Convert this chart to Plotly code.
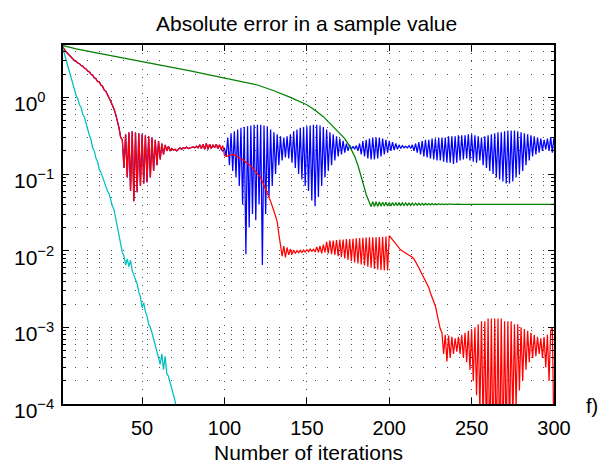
import math
import plotly.graph_objects as go

# ---------------- data ----------------
iterations = list(range(1, 301))

red_err = [
    4.8, 4.45, 4.15, 3.9, 3.7, 3.5, 3.35, 3.2, 3.0, 2.95,
    2.8, 2.75, 2.6, 2.55, 2.4, 2.35, 2.2, 2.15, 2.0, 1.95,
    1.8, 1.75, 1.6, 1.6, 1.45, 1.4, 1.25, 1.2, 1.05, 0.98,
    0.88, 0.8, 0.7, 0.6, 0.5, 0.4, 0.3,
    0.28, 0.12, 0.33, 0.09, 0.35, 0.06, 0.36, 0.044, 0.35, 0.058,
    0.34, 0.07, 0.33, 0.075, 0.32, 0.078, 0.31, 0.09, 0.30, 0.11,
    0.28, 0.13, 0.27, 0.155, 0.25, 0.18, 0.24, 0.2, 0.23, 0.2,
    0.215, 0.205, 0.21, 0.2, 0.21, 0.22, 0.21, 0.22, 0.215, 0.225,
    0.215, 0.22, 0.22, 0.225, 0.22, 0.23, 0.22, 0.24, 0.215, 0.245,
    0.21, 0.25, 0.21, 0.245, 0.215, 0.24, 0.22, 0.245, 0.215, 0.24, 0.21, 0.235,
    0.175, 0.17, 0.172, 0.175, 0.178, 0.18, 0.178, 0.172, 0.165, 0.16,
    0.157, 0.155, 0.15, 0.143, 0.137, 0.132, 0.128, 0.12, 0.113, 0.105,
    0.1, 0.095, 0.09, 0.08, 0.072, 0.065, 0.058, 0.05, 0.044, 0.039,
    0.033, 0.028, 0.024, 0.0165, 0.012, 0.0085, 0.0115, 0.0082, 0.011, 0.0088,
    0.0105, 0.009, 0.0102, 0.0092, 0.01, 0.0094, 0.0101, 0.0095, 0.0102, 0.0096,
    0.0103, 0.0097, 0.0105, 0.0098, 0.0104, 0.0096, 0.0112, 0.0095, 0.0115, 0.0092,
    0.012, 0.0095, 0.013, 0.0092, 0.0135, 0.009, 0.0135, 0.0088, 0.0138, 0.0085,
    0.014, 0.0082, 0.014, 0.0079, 0.0142, 0.0076, 0.0142, 0.0073, 0.0143, 0.007,
    0.0145, 0.0068, 0.0146, 0.0066, 0.0147, 0.0064, 0.0148, 0.0062, 0.0149, 0.006,
    0.015, 0.0058, 0.015, 0.0057, 0.0151, 0.0056, 0.0152, 0.0055, 0.0153, 0.0055,
    0.0157, 0.0148, 0.0137, 0.0128, 0.012, 0.0113, 0.0107, 0.0102, 0.0099, 0.0096,
    0.0093, 0.009, 0.0088, 0.0086, 0.0082, 0.0078, 0.0072, 0.0066, 0.006, 0.0054,
    0.0049, 0.0045, 0.0041, 0.0037, 0.0033, 0.0028, 0.0025, 0.0022, 0.0019, 0.0015,
    0.0012, 0.00095, 0.00085,
    0.00045, 0.0008, 0.00036, 0.00078, 0.0004, 0.00075, 0.00045, 0.00072, 0.00048, 0.00075,
    0.00045, 0.0008, 0.0004, 0.00085, 0.00035, 0.0009, 0.00028, 0.00095, 0.0002, 0.001,
    0.00013, 0.0011, 0.00008, 0.0012, 0.00005, 0.0012, 0.00003, 0.0013, 0.00002, 0.0013,
    0.00002, 0.0013, 0.00002, 0.0013, 0.00002, 0.0013, 0.00002, 0.0012, 0.00003, 0.0012,
    0.00004, 0.0012, 0.00006, 0.0011, 0.00009, 0.0011, 0.00015, 0.001, 0.0002, 0.00095,
    0.00028, 0.0009, 0.00035, 0.00085, 0.0004, 0.0008, 0.00042, 0.00075, 0.00045, 0.00072,
    0.0004, 0.00075, 0.0003, 0.0008, 0.0002, 0.0009, 0.001, 0.00003,
]

# blue: identical to red up to iteration 98, then oscillates
blue_split_iter = 99
blue_troughs = [  # iterations 99, 101, ..., 299
    0.2, 0.17, 0.13, 0.11, 0.09, 0.07, 0.04, 0.009, 0.02, 0.03,
    0.025, 0.04, 0.0065, 0.03, 0.05, 0.07, 0.1, 0.13, 0.15, 0.165,
    0.16, 0.14, 0.12, 0.1, 0.085, 0.07, 0.06, 0.045, 0.038, 0.05,
    0.07, 0.09, 0.11, 0.13, 0.15, 0.17, 0.18, 0.19, 0.2, 0.21,
    0.21, 0.2, 0.18, 0.17, 0.16, 0.155, 0.155, 0.16, 0.17, 0.18,
    0.19, 0.2, 0.205, 0.21, 0.215, 0.22, 0.22, 0.215, 0.2, 0.19,
    0.18, 0.17, 0.165, 0.16, 0.155, 0.15, 0.15, 0.145, 0.14, 0.14,
    0.135, 0.14, 0.15, 0.155, 0.16, 0.15, 0.145, 0.14, 0.15, 0.13,
    0.12, 0.11, 0.1, 0.09, 0.085, 0.08, 0.075, 0.075, 0.08, 0.09,
    0.1, 0.11, 0.13, 0.15, 0.17, 0.18, 0.19, 0.2, 0.21, 0.2,
    0.19,
]
blue_peaks = [  # iterations 100, 102, ..., 300
    0.22, 0.3, 0.34, 0.36, 0.38, 0.4, 0.41, 0.42, 0.43, 0.44,
    0.44, 0.44, 0.43, 0.42, 0.38, 0.35, 0.33, 0.31, 0.3, 0.31,
    0.33, 0.36, 0.38, 0.4, 0.41, 0.42, 0.43, 0.44, 0.44, 0.43,
    0.41, 0.38, 0.35, 0.33, 0.31, 0.29, 0.27, 0.25, 0.24, 0.23,
    0.235, 0.25, 0.27, 0.28, 0.29, 0.3, 0.3, 0.3, 0.29, 0.28,
    0.27, 0.26, 0.25, 0.24, 0.235, 0.23, 0.235, 0.24, 0.25, 0.26,
    0.27, 0.28, 0.28, 0.29, 0.29, 0.3, 0.3, 0.3, 0.31, 0.31,
    0.31, 0.32, 0.32, 0.32, 0.33, 0.33, 0.32, 0.31, 0.3, 0.31,
    0.32, 0.33, 0.34, 0.35, 0.35, 0.36, 0.37, 0.37, 0.37, 0.36,
    0.35, 0.34, 0.33, 0.32, 0.31, 0.3, 0.29, 0.28, 0.29, 0.3,
    0.3,
]

green_iter = ([1, 10, 20, 30, 40, 50, 60, 70, 80, 90, 100, 110, 120, 130, 140,
               150, 155, 160, 165, 170, 173, 176, 179, 181, 183, 185, 186, 187]
              + list(range(188, 247)) + [250, 300])
green_err = [
    4.8, 4.3, 3.9, 3.55, 3.25, 2.95, 2.7, 2.45, 2.2, 1.98, 1.78, 1.6, 1.45, 1.22, 1.0,
    0.8, 0.68, 0.56, 0.44, 0.34, 0.29, 0.23, 0.17, 0.13, 0.095, 0.065, 0.054, 0.047,
    0.043, 0.0375, 0.0435, 0.0375, 0.0435, 0.0378, 0.0432, 0.038, 0.043, 0.0382,
    0.0428, 0.0383, 0.0426, 0.0384, 0.0425, 0.0385, 0.0424, 0.0386, 0.0423, 0.0387,
    0.0422, 0.0388, 0.042, 0.0389, 0.0418, 0.039, 0.0417, 0.0391, 0.0416, 0.0392,
    0.0415, 0.0393, 0.0414, 0.0394, 0.0413, 0.0395, 0.0412, 0.0396, 0.0411, 0.0397,
    0.041, 0.0398, 0.0409, 0.0399, 0.0408, 0.04, 0.0407, 0.04, 0.0406, 0.0401,
    0.0405, 0.0401, 0.0404, 0.0402, 0.0404, 0.0402, 0.0403, 0.0402, 0.0403,
    0.0402, 0.0402,
]

cyan_err = [
    4.8, 4.3, 3.6, 3.0, 2.6, 2.1, 1.75, 1.45, 1.3, 1.05,
    0.95, 0.8, 0.74, 0.6, 0.55, 0.45, 0.38, 0.32, 0.28, 0.22,
    0.2, 0.16, 0.145, 0.115, 0.105, 0.09, 0.078, 0.07, 0.06, 0.055,
    0.045, 0.038, 0.034, 0.026, 0.02, 0.016, 0.012, 0.0095, 0.0085, 0.0065,
    0.0078, 0.0062, 0.0075, 0.0055, 0.0048, 0.0042, 0.0037, 0.0029, 0.0025, 0.0018,
    0.0021, 0.0016, 0.0014, 0.0011, 0.001, 0.00085, 0.0007, 0.00058, 0.00045, 0.0004,
    0.00033, 0.00045, 0.00028, 0.00042, 0.00025, 0.00023, 0.00019, 0.00017, 0.00013, 0.00011,
    0.00008, 0.00006,
]
cyan_iter = iterations[:len(cyan_err)]

x_ticks = [50, 100, 150, 200, 250, 300]
y_ticks = [1e-4, 1e-3, 1e-2, 1e-1, 1e0]
y_ticktext = ["10<sup>−4</sup>", "10<sup>−3</sup>", "10<sup>−2</sup>",
              "10<sup>−1</sup>", "10<sup>0</sup>"]

title_text = "Absolute error in a sample value"
xlabel_text = "Number of iterations"
panel_text = "f)"

# ---------------- assemble blue series ----------------
blue_tail = []
for t, p in zip(blue_troughs, blue_peaks):
    blue_tail += [t, p]
blue_iter = iterations[:blue_split_iter - 1] + list(range(blue_split_iter, 301))
blue_err = red_err[:blue_split_iter - 1] + blue_tail

# ---------------- figure ----------------
FONT = "Liberation Sans, Arial, Helvetica, sans-serif"
LW = 1.25

fig = go.Figure()
fig.add_trace(go.Scatter(x=blue_iter, y=blue_err, mode="lines",
                         line=dict(color="#0000FF", width=LW)))
fig.add_trace(go.Scatter(x=iterations, y=red_err, mode="lines",
                         line=dict(color="#FF0000", width=LW)))
fig.add_trace(go.Scatter(x=green_iter, y=green_err, mode="lines",
                         line=dict(color="#008000", width=LW)))
fig.add_trace(go.Scatter(x=cyan_iter, y=cyan_err, mode="lines",
                         line=dict(color="#00BFBF", width=LW)))

ytop = 0.683
minor_vals = [m * 10 ** d for d in range(-4, 1) for m in range(2, 10) if m * 10 ** d < 10 ** ytop]

GRIDC = "rgba(0,0,0,0.7)"
fig.update_xaxes(range=[2, 300], tickvals=x_ticks, ticks="inside", ticklen=6,
                 tickwidth=1, tickcolor="black", mirror="ticks", showline=True,
                 linecolor="black", linewidth=1.5, showgrid=True, gridcolor=GRIDC,
                 gridwidth=1, griddash="1px,7px", zeroline=False,
                 tickfont=dict(family=FONT, size=20, color="black"),
                 ticklabelstandoff=5)
fig.update_yaxes(type="log", range=[-4, ytop], tickvals=y_ticks, showticklabels=False,
                 ticks="inside", ticklen=6, tickwidth=1, tickcolor="black",
                 mirror="ticks", showline=True, linecolor="black", linewidth=1.5,
                 showgrid=True, gridcolor=GRIDC, gridwidth=1, griddash="1px,11px",
                 zeroline=False,
                 minor=dict(tickvals=minor_vals, ticks="inside", ticklen=3,
                            tickcolor="black", tickwidth=1, showgrid=True,
                            gridcolor=GRIDC, gridwidth=1, griddash="1px,11px"))

# y tick labels: base "10" left-aligned as in the reference, exponent as superscript
ylabel_annots = [
    dict(text=t, xref="paper", yref="y", x=-0.104, y=math.log10(v),
         xanchor="left", yanchor="middle", yshift=-5, showarrow=False,
         font=dict(family=FONT, size=21, color="black"))
    for v, t in zip(y_ticks, y_ticktext)
]

fig.update_layout(
    width=614, height=468,
    margin=dict(l=63, r=60, t=45, b=64),
    paper_bgcolor="white", plot_bgcolor="white",
    showlegend=False,
    font=dict(family=FONT, size=20, color="black"),
    annotations=ylabel_annots + [
        dict(text=title_text, xref="paper", yref="paper", x=0.495, y=1.06,
             xanchor="center", yanchor="middle", showarrow=False,
             font=dict(family=FONT, size=21, color="black")),
        dict(text=xlabel_text, xref="paper", yref="paper", x=0.5, y=-0.134,
             xanchor="center", yanchor="middle", showarrow=False,
             font=dict(family=FONT, size=21, color="black")),
        dict(text=panel_text, xref="paper", yref="paper", x=1.077, y=-0.006,
             xanchor="center", yanchor="middle", showarrow=False,
             font=dict(family=FONT, size=20, color="black")),
    ],
)

fig.write_html("out.html")
